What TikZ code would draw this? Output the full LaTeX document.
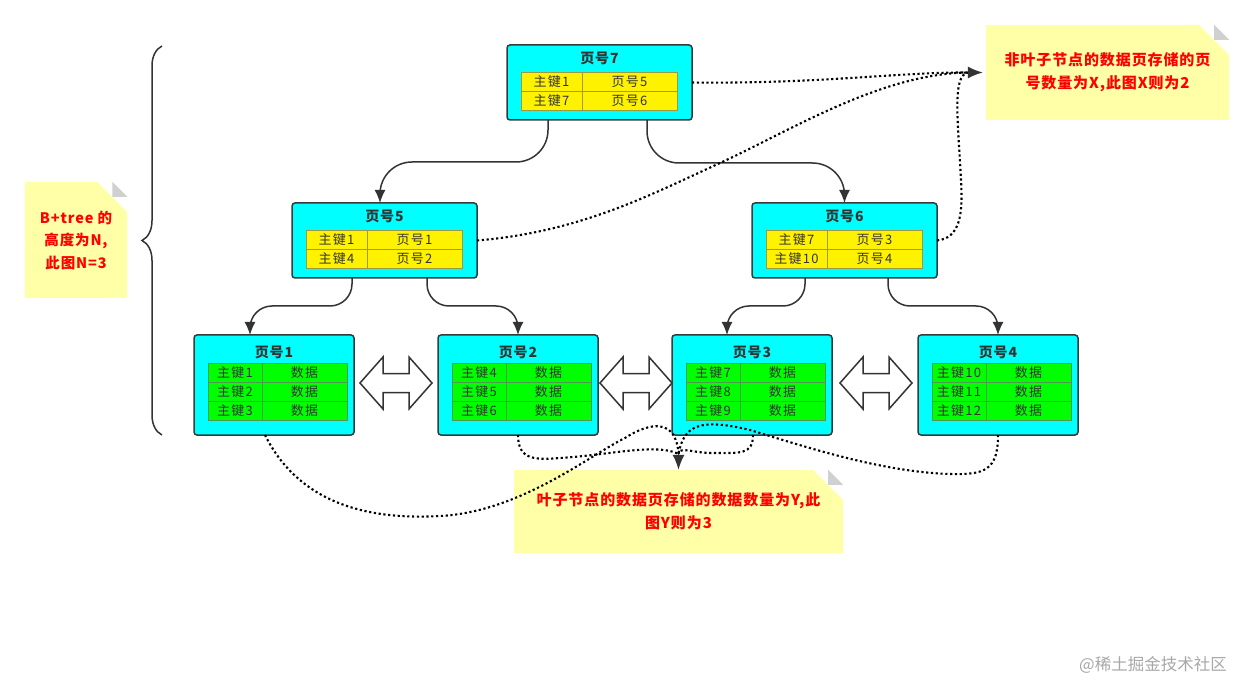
\documentclass[tikz,border=0pt]{standalone}
\usepackage{fontspec}
\setmainfont{Noto Sans CJK SC}
\usetikzlibrary{arrows.meta,shapes.misc,decorations.pathreplacing,calc}
\definecolor{pagecyan}{HTML}{00FFFF}
\definecolor{pageline}{HTML}{36393D}
\definecolor{yline}{HTML}{9A9A40}
\definecolor{gline}{HTML}{4E9A4E}
\definecolor{notefill}{HTML}{FFFFA8}
\definecolor{foldgray}{HTML}{D0D0D0}
\definecolor{txt}{HTML}{333333}
\definecolor{wmgray}{HTML}{A8A8A8}
\newcommand\MakeInnerPage[8]{%
 \node[pagebox, minimum width=185pt, minimum height=75pt] (#1) at (#2,#3) {};
 \node[titletext] (#1-t) at (#2+92.5,#3+13) {#4};
 \node[ycell, minimum width=61pt] (#1-a1) at (#2+14,#3+27) {#5};
 \node[ycell, minimum width=95pt] (#1-b1) at (#1-a1.north east) {#6};
 \node[ycell, minimum width=61pt] (#1-a2) at (#1-a1.south west) {#7};
 \node[ycell, minimum width=95pt] (#1-b2) at (#1-a2.north east) {#8};
}
\newcommand\MakeLeafPage[7]{%
 \node[pagebox, minimum width=160pt, minimum height=100pt] (#1) at (#2,#3) {};
 \node[titletext] (#1-t) at (#2+80,#3+17) {#4};
 \node[gcell, minimum width=54pt] (#1-a1) at (#2+14,#3+28) {#5};
 \node[gcell, minimum width=85pt] (#1-b1) at (#1-a1.north east) {数据};
 \node[gcell, minimum width=54pt] (#1-a2) at (#1-a1.south west) {#6};
 \node[gcell, minimum width=85pt] (#1-b2) at (#1-a2.north east) {数据};
 \node[gcell, minimum width=54pt] (#1-a3) at (#1-a2.south west) {#7};
 \node[gcell, minimum width=85pt] (#1-b3) at (#1-a3.north east) {数据};
}
\begin{document}
\begin{tikzpicture}[x=1pt,y=-1pt,
 pagebox/.style={draw=pageline, fill=pagecyan, line width=1.5pt, rounded corners=3pt, anchor=north west, inner sep=0pt, outer sep=0pt},
 titletext/.style={font=\bfseries\fontsize{14}{14}\selectfont\addfontfeature{LetterSpace=6}, text=txt, inner sep=0pt},
 cellbase/.style={anchor=north west, minimum height=19pt, inner sep=0pt, outer sep=0pt, line width=0.8pt, text=txt, font=\fontsize{13}{13}\selectfont\addfontfeature{LetterSpace=10}},
 ycell/.style={cellbase, draw=yline, fill=yellow},
 gcell/.style={cellbase, draw=gline, fill=green},
 tree/.style={draw=txt, line width=1.5pt, -{Latex[length=13pt,width=11pt]}},
 dotline/.style={draw=black, line width=2.1pt, dash pattern=on 2.2pt off 2.6pt},
 tipdot/.style={draw=txt, line width=1.5pt, -{Latex[length=15pt,width=12pt]}},
 dblarrow/.style={draw=txt, fill=white, line width=1.5pt, line join=miter},
 note/.style={chamfered rectangle, chamfered rectangle corners=north east, chamfered rectangle xsep=15pt, chamfered rectangle ysep=15pt, fill=notefill, inner sep=0pt, text=red, align=center, font=\bfseries\fontsize{15}{23}\selectfont\addfontfeature{LetterSpace=6}},
 bracestyle/.style={draw=txt, line width=1.5pt, decorate, decoration={brace, amplitude=20pt}}
]
\useasboundingbox[fill=white] (0,0) rectangle (1254,695);

% pages
\MakeInnerPage{p7}{507}{45}{页号7}{主键1}{页号5}{主键7}{页号6}
\MakeInnerPage{p5}{292}{203}{页号5}{主键1}{页号1}{主键4}{页号2}
\MakeInnerPage{p6}{752}{203}{页号6}{主键7}{页号3}{主键10}{页号4}
\MakeLeafPage{l1}{194}{335}{页号1}{主键1}{主键2}{主键3}
\MakeLeafPage{l2}{438}{335}{页号2}{主键4}{主键5}{主键6}
\MakeLeafPage{l3}{672}{335}{页号3}{主键7}{主键8}{主键9}
\MakeLeafPage{l4}{918}{335}{页号4}{主键10}{主键11}{主键12}

% tree connectors
\draw[tree, rounded corners=32pt] ([xshift=-51.5pt]p7.south) -- ++(0,42) -| ([xshift=-4.5pt]p5.north);
\draw[tree, rounded corners=32pt] ([xshift=47.5pt]p7.south) -- ++(0,43) -| (p6.north);
\draw[tree, rounded corners=22pt] ([xshift=-32.5pt]p5.south) -- ++(0,28) -| ([xshift=-24pt]l1.north);
\draw[tree, rounded corners=22pt] ([xshift=42.5pt]p5.south) -- ++(0,28) -| (l2.north);
\draw[tree, rounded corners=22pt] ([xshift=-39.5pt]p6.south) -- ++(0,28) -| ([xshift=-25pt]l3.north);
\draw[tree, rounded corners=22pt] ([xshift=43.5pt]p6.south) -- ++(0,28) -| (l4.north);

% double arrows between leaves
\foreach \cx in {396,636,876}{
 \draw[dblarrow] (\cx-36,383) -- (\cx-13,357) -- (\cx-13,373.5) -- (\cx+13,373.5) -- (\cx+13,357) -- (\cx+36,383) -- (\cx+13,409) -- (\cx+13,392.5) -- (\cx-13,392.5) -- (\cx-13,409) -- cycle;
}

% brace
\coordinate (bb) at (162,435);
\coordinate (bt) at (162,46);
\draw[bracestyle] (bb) -- (bt);

% notes
\node[note, minimum width=102pt, minimum height=116pt, font=\bfseries\fontsize{14.5}{22.5}\selectfont\addfontfeature{LetterSpace=6}] (nN) at (76,240) {B+tree 的\\高度为N,\\此图N=3};
\node[note, minimum width=243pt, minimum height=95pt] (nX) at (1107.5,72.5) {非叶子节点的数据页存储的页\\号数量为X,此图X则为2};
\node[note, minimum width=329pt, minimum height=83pt] (nY) at (678.5,511.5) {叶子节点的数据页存储的数据数量为Y,此\\图Y则为3};
\foreach \n in {nN,nX,nY}{
 \coordinate (\n-c) at (\n.east |- \n.north);
 \fill[foldgray] ([xshift=-15pt]\n-c) -- ([xshift=-15pt,yshift=-15pt]\n-c) -- ([yshift=-15pt]\n-c) -- cycle;
}

% dotted connectors to X note
\coordinate (xa) at ([xshift=-18pt]nX.west);
\draw[dotline] (p7.east) .. controls (820,84) and (900,72) .. (xa);
\draw[dotline] (p5.east) .. controls (580,232) and (650,195) .. (720,163) .. controls (790,131) and (880,74) .. (xa);
\draw[dotline] (p6.east) .. controls (960,238) and (963,215) .. (961,180) .. controls (958,120) and (952,76) .. (xa);
\draw[tipdot] (xa) -- ([xshift=-3pt]nX.west);

% dotted connectors to Y note
\coordinate (ya) at ([yshift=16pt]nY.north);
\draw[dotline] ([xshift=-9pt]l1.south) .. controls (300,505) and (370,520) .. (440,516) .. controls (520,512) and (590,455) .. (625,438) .. controls (650,422) and (676,418) .. (ya);
\draw[dotline] (l2.south) .. controls (518,460) and (535,460) .. (560,458) .. controls (610,455) and (655,443) .. (ya);
\draw[dotline] ([xshift=1pt]l3.south) .. controls (753,455) and (740,453) .. (712,453) .. controls (692,453) and (680,446) .. (ya);
\draw[dotline] (l4.south) .. controls (998,470) and (985,475) .. (950,474) .. controls (880,472) and (800,445) .. (750,430) .. controls (700,418) and (684,425) .. (ya);
\draw[tipdot] (ya) -- (nY.north);

% watermark
\node[text=wmgray, font=\fontsize{16.5}{17}\selectfont, inner sep=0pt] (wm) at (1153,665) {@稀土掘金技术社区};
\end{tikzpicture}
\end{document}
